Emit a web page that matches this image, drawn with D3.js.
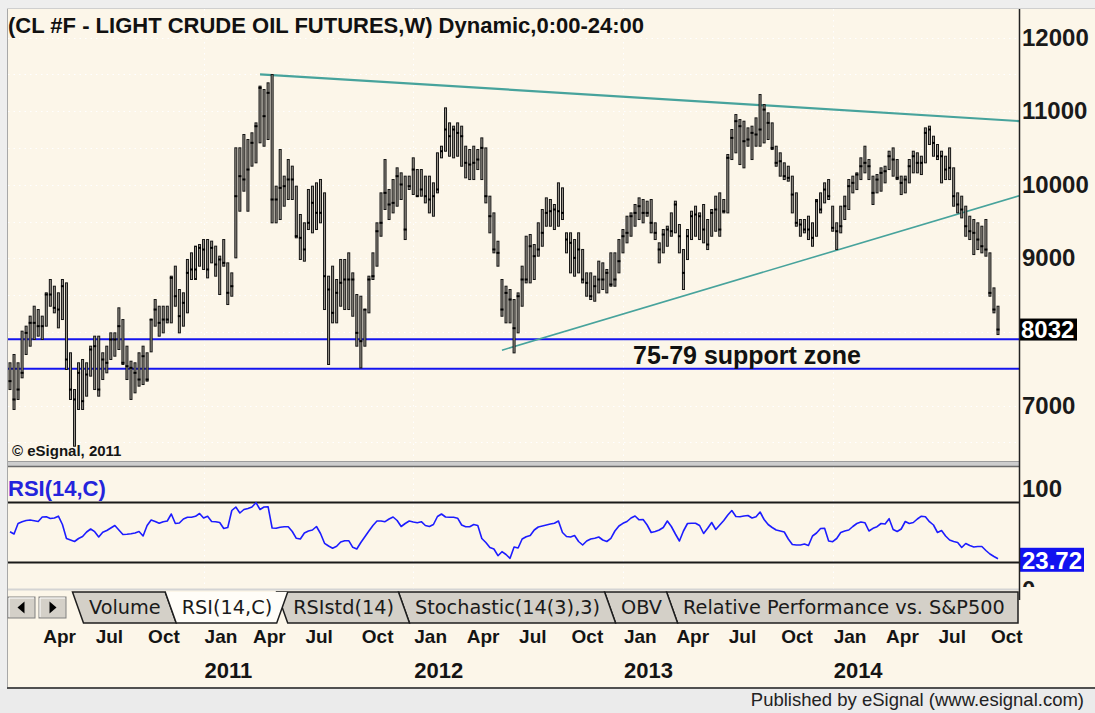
<!DOCTYPE html>
<html>
<head>
<meta charset="utf-8">
<script src="https://cdn.jsdelivr.net/npm/d3@7"></script>
<style>
  body { margin: 0; background: #eeeeee; }
  svg { display: block; font-family: "Liberation Sans", Arial, sans-serif; }
  .tab-label { font-family: "DejaVu Sans", Verdana, sans-serif; }
</style>
</head>
<body>
<svg id="chart" width="1095" height="713"></svg>
<script>
// Weekly bars of CL #F, one per week starting with the week of 5 Feb 2010 (values in cents)
const firstWeek = new Date(2010, 1, 5);

const highs = [
  7580,7693,7580,8010,8078,8214,8349,8304,8214,8531,8712,8621,8531,8712,8666,7716,7217,7580,7625,7580,
  7806,7942,7942,7716,7806,7987,7987,8327,8168,7806,7602,7580,7716,7806,7716,8168,8440,8349,8349,8349,
  8757,8893,8576,8531,8984,9074,9165,9187,9255,9255,9233,9165,9029,9255,8938,8802,10501,10501,10682,10614,
  10705,10840,11339,11293,11384,11497,9980,10478,10116,10342,10252,9980,9595,9482,9935,9980,10025,10071,9889,8757,
  8893,8712,8984,8984,9074,8802,8508,8485,8304,8757,9074,9482,9889,10342,9935,10070,10229,10161,10116,10116,
  10365,10206,10206,10116,10116,10025,10433,10523,11044,10840,10795,10840,10795,10523,10478,10523,10478,10636,10500,9844,
  9617,9232,8712,8621,8576,8440,8530,8893,9300,9323,9187,9482,9663,9821,9799,9731,10025,9957,9346,9346,
  9255,9346,9120,8802,8802,8757,8961,8938,8848,9074,9074,9255,9391,9572,9617,9731,9821,9799,9776,9799,
  9482,9210,9391,9436,9617,9776,9459,9119,9391,9640,9708,9617,9731,9527,9663,9844,9889,9799,10410,10750,
  10953,10885,10863,10772,10795,10908,11225,11089,10976,10840,10523,10433,10297,10251,10116,9889,9527,9527,9572,9482,
  9799,9889,10025,10070,9708,9482,9708,9844,10070,10116,10161,10365,10523,10342,10116,10138,10229,10251,10455,10500,
  10342,10116,10116,10342,10455,10433,10387,10772,10795,10659,10546,10455,10387,10500,10229,9889,9844,9708,9572,9527,
  9482,9436,9527,9074,8598,8349
];
const lows = [
  7217,6946,7082,7376,7693,7806,7897,7942,7897,8078,8349,8259,8055,8168,7489,7082,6447,6946,6946,7127,
  7399,7217,7127,7353,7444,7625,7670,7761,7557,7353,7082,7172,7263,7285,7331,7729,8078,7942,7987,8123,
  8123,8349,7987,8078,8259,8712,8712,8893,8848,8734,8938,8757,8508,8893,8372,8485,9006,9640,9912,9640,
  10252,10297,10569,10523,10614,9482,9482,9527,9708,9799,9799,9278,8984,8961,9391,9346,9391,9482,8304,7557,
  8123,8123,8349,8304,8304,8213,7806,7511,7806,8259,8712,8893,9300,9663,9527,9617,9708,9799,9255,9935,
  9867,9844,9844,9753,9617,9572,9889,10365,10455,10387,10365,10387,10251,10093,10070,10070,10206,10070,9753,9346,
  9074,8893,8213,8123,8123,7715,7987,8349,8666,8666,8712,9029,9164,9436,9436,9391,9436,9527,9074,8802,
  8757,8802,8666,8485,8440,8417,8530,8576,8530,8621,8621,8802,9074,9210,9300,9436,9527,9482,9572,9346,
  9255,8938,9074,9164,9300,9346,9074,8576,8983,9255,9300,9255,9210,9119,9300,9368,9300,9617,9617,10342,
  10433,10274,10229,10523,10342,10523,10523,10568,10614,10478,10251,10116,10070,10048,9617,9436,9300,9346,9255,9164,
  9300,9617,9753,9799,9368,9119,9346,9527,9663,9889,9934,10070,10161,10070,9731,9889,9912,10025,10206,10116,
  10070,9866,9889,10025,10161,10161,10138,10297,10546,10387,10342,10025,10070,10070,9708,9617,9549,9300,9255,9051,
  9119,9074,9029,8485,8259,7964
];
const closes = [
  7331,7082,7217,7444,7987,8123,8123,8078,8078,8508,8508,8327,8304,8621,7625,7217,7082,7444,7059,7421,
  7761,7806,7217,7625,7580,7897,7897,8078,7580,7534,7512,7444,7353,7670,7353,8168,8304,8123,8168,8168,
  8734,8485,8214,8395,8802,8848,8848,9142,9119,8848,9142,8916,8984,8938,8531,8621,9844,10116,10071,10206,
  10569,10795,11316,10931,11248,9799,9799,9957,9980,10071,10071,9301,9278,9120,9482,9754,9618,9618,8757,8576,
  8259,8531,8667,8712,8712,8712,7987,7874,8304,8712,8757,9368,9482,9889,9731,9753,10116,10003,9391,9980,
  10206,9844,9935,9844,9799,9844,9935,10455,10750,10659,10750,10704,10659,10297,10274,10297,10342,10500,9844,9572,
  9120,9074,8304,8530,8440,8050,8485,8712,8712,9164,9029,9120,9346,9617,9640,9663,9640,9617,9255,9210,
  9006,9120,8712,8666,8485,8621,8712,8712,8802,8644,8712,8961,9300,9346,9572,9617,9708,9617,9617,9482,
  9346,9120,9323,9391,9368,9731,9300,8802,9300,9572,9595,9572,9391,9187,9617,9663,9391,9640,10365,10636,
  10863,10795,10591,10614,10704,10682,10750,11021,10840,10500,10297,10319,10116,10093,9866,9482,9459,9391,9391,9278,
  9776,9663,9934,9844,9414,9368,9436,9708,9980,10025,10138,10251,10297,10251,9889,10070,10161,10183,10387,10342,
  10093,10025,10070,10251,10387,10297,10297,10704,10750,10568,10387,10387,10206,10229,9844,9731,9663,9436,9368,9346,
  9255,9164,9119,8530,8304,8032
];
// RSI(14) on weekly closes, one reading per bar
const rsi = [
  50.8,48.5,59,60.8,62,62.5,61.8,61,65.5,65.8,64,64.5,66.3,58,44,42.5,41,44,46,50.5,
  53.5,50.8,45.5,50.3,52,54.5,57,52.5,48,48.2,48.8,49.5,51,46.5,57,62.5,61,59.2,60.8,61.5,
  68.5,59,59.5,63.5,65.2,65.2,66.2,69,64.5,66.2,61,60.8,60,54,55,72,75.5,69.5,73,74,
  75.5,79.8,73,75.5,75.8,54.5,54.2,55.2,55.8,55.8,51,44.2,43.5,49.5,51.5,52.5,56,49,39.2,36.5,
  34.3,36.2,40.5,41.8,41.8,35.2,33.5,40,45.8,51.5,57,61.5,61.5,60.8,63.5,65.5,62,56,59,61.5,
  60.5,59.8,60.8,57,56,58,66,68.5,65.5,65.2,65.2,64.3,57.5,55.8,55.8,58,57,44,40,35,
  33.5,26.8,30.8,28,24.2,35.5,34.5,43.5,45.8,47,52.5,55.5,56.5,57.5,58.5,59.2,61.5,50,46,45.5,
  47,41,37.5,41.5,43.5,44.3,45.5,42.5,41,44.2,51.5,56.5,59.2,61,64.5,66.5,62.7,63,57.5,50,
  51,52.5,55,61.5,56,48.5,41.5,51.5,59,59.2,59.2,57,49,54.2,60,53,57.5,62,67.5,72,
  66,65.8,66.5,67,64.5,65.8,70.5,63,58,55,52.5,51.5,50.5,43.5,38,37.5,37.5,38.5,37,46.5,
  49.5,54,54.2,41.5,40.8,44,50,51.5,52.5,56,59,60.5,59.8,51.5,54.2,55.8,59,58.5,63.8,53,
  51,53.5,61,59,60,63.5,66.3,65.8,60.8,57.5,50,52,46.5,42.5,41,40,35,39,37,35.5,
  36,36,32,28.5,26,23.72
];

const priceTicks = [7000, 8000, 9000, 10000, 11000, 12000];
const priceGrid = [6500, 7000, 7500, 8000, 8500, 9000, 9500, 10000, 10500, 11000, 11500, 12000];
const supportLevels = [7900, 7500];
const trendLines = [
  { fromWeek: 62, fromPrice: 11500, toWeek: 251, toPrice: 10862 },
  { fromWeek: 122, fromPrice: 7752, toWeek: 251, toPrice: 9862 }
];
const rsiTicks = [0, 100];
const rsiBands = [80, 20];
const tabs = ["Volume", "RSI(14,C)", "RSIstd(14)", "Stochastic(14(3),3)", "OBV", "Relative Performance vs. S&P500"];
const activeTab = 1;

const W = 1095, H = 713;
const cream = "#fcf6e9";
const plotL = 8, plotR = 1019, priceTop = 9, priceBottom = 461;
const rsiTop = 467, rsiBottom = 589;

const weekDate = i => d3.timeDay.offset(firstWeek, 7 * i);
const dates = closes.map((_, i) => weekDate(i));
const n = closes.length;

const x = d3.scaleTime().domain([dates[0], dates[n - 1]]).range([10, 998]);
const y = d3.scaleLinear().domain([7000, 12000]).range([405.5, 37.5]);
const yr = d3.scaleLinear().domain([0, 100]).range([582.5, 482.5]);

const svg = d3.select("#chart");
const defs = svg.append("defs");
defs.append("clipPath").attr("id", "priceClip").append("rect")
  .attr("x", plotL).attr("y", priceTop).attr("width", plotR - plotL).attr("height", priceBottom - priceTop);
defs.append("clipPath").attr("id", "rsiAxisClip").append("rect")
  .attr("x", plotR).attr("y", rsiTop).attr("width", W - plotR).attr("height", 120);

// frame and panel backgrounds
svg.append("rect").attr("width", W).attr("height", H).attr("fill", "#eeeeee");
svg.append("rect").attr("x", plotL).attr("y", priceTop).attr("width", W - plotL).attr("height", 678).attr("fill", cream);
svg.append("line").attr("x1", 7.5).attr("x2", 7.5).attr("y1", 8).attr("y2", 687).attr("stroke", "#a8a8a8");
svg.append("line").attr("x1", 7).attr("x2", W).attr("y1", 8.5).attr("y2", 8.5).attr("stroke", "#cfcfcf");

// first bar of each quarter month
const quarterMonths = d3.timeMonths(new Date(2010, 3, 1), new Date(2014, 10, 1), 3);
const monthMarks = quarterMonths.map(m => {
  const d = dates.find(dd => dd.getFullYear() === m.getFullYear() && dd.getMonth() === m.getMonth());
  return { month: m, date: d };
}).filter(d => d.date);
const janMarks = monthMarks.filter(d => d.month.getMonth() === 0);

// dotted grid
const grid = svg.append("g").attr("stroke", "#ffffff").attr("stroke-width", 1).attr("stroke-dasharray", "1.5,4");
grid.selectAll("line.h").data(priceGrid).join("line")
  .attr("x1", plotL).attr("x2", plotR).attr("y1", d => Math.round(y(d)) + 0.5).attr("y2", d => Math.round(y(d)) + 0.5);
grid.selectAll("line.v").data(janMarks).join("line")
  .attr("x1", d => Math.round(x(d.date)) + 0.5).attr("x2", d => Math.round(x(d.date)) + 0.5)
  .attr("y1", priceTop).attr("y2", priceBottom);
grid.selectAll("line.vr").data(janMarks).join("line")
  .attr("x1", d => Math.round(x(d.date)) + 0.5).attr("x2", d => Math.round(x(d.date)) + 0.5)
  .attr("y1", rsiTop).attr("y2", rsiBottom);

// title
svg.append("text").attr("x", 8).attr("y", 33)
  .attr("font-size", 22).attr("font-weight", "bold").attr("fill", "#111")
  .text("(CL #F - LIGHT CRUDE OIL FUTURES,W) Dynamic,0:00-24:00");

// support zone
svg.append("g").selectAll("line").data(supportLevels).join("line")
  .attr("x1", plotL).attr("x2", plotR).attr("y1", d => y(d)).attr("y2", d => y(d))
  .attr("stroke", "#1414ee").attr("stroke-width", 2);
svg.append("text").attr("x", 633).attr("y", 364)
  .attr("font-size", 25).attr("font-weight", "bold").attr("fill", "#111")
  .text("75-79 support zone");

// trend lines
svg.append("g").attr("clip-path", "url(#priceClip)").selectAll("line").data(trendLines).join("line")
  .attr("x1", d => x(weekDate(d.fromWeek))).attr("y1", d => y(d.fromPrice))
  .attr("x2", d => x(weekDate(d.toWeek))).attr("y2", d => y(d.toPrice))
  .attr("stroke", "#47a39c").attr("stroke-width", (d, i) => i === 0 ? 2.2 : 1.6);

// weekly bars
const bars = svg.append("g");
bars.selectAll("rect.bar").data(d3.range(n)).join("rect")
  .attr("x", i => x(dates[i]) - 1).attr("width", 2)
  .attr("y", i => y(highs[i])).attr("height", i => y(lows[i]) - y(highs[i]))
  .attr("fill", "#9d988f").attr("stroke", "#141414").attr("stroke-width", 1);
bars.selectAll("rect.close").data(d3.range(n)).join("rect")
  .attr("x", i => x(dates[i]) - 1.5).attr("width", 3)
  .attr("y", i => y(closes[i]) - 1).attr("height", 2)
  .attr("fill", "#000");

svg.append("text").attr("x", 12).attr("y", 456)
  .attr("font-size", 15).attr("font-weight", "bold").attr("fill", "#151515")
  .text("\u00a9 eSignal, 2011");

// price axis
const lastClose = closes[n - 1];
const shownTicks = priceTicks.filter(t => Math.abs(y(t) - y(lastClose)) > 16);
const pAxis = svg.append("g").attr("transform", `translate(${plotR},0)`)
  .call(d3.axisRight(y).tickValues(shownTicks).tickSize(0).tickPadding(3).tickFormat(d3.format("d")));
pAxis.select(".domain").remove();
pAxis.attr("font-family", null).attr("font-size", null);
pAxis.selectAll("text").attr("font-size", 24).attr("font-weight", "bold").attr("fill", "#1a1a1a");
svg.append("rect").attr("x", plotR).attr("y", y(lastClose) - 11).attr("width", 58).attr("height", 22).attr("fill", "#000");
svg.append("text").attr("x", plotR + 2).attr("y", y(lastClose)).attr("dy", "0.36em")
  .attr("font-size", 24).attr("font-weight", "bold").attr("fill", "#fff")
  .text(d3.format("d")(lastClose));

// panel separator
svg.append("rect").attr("x", plotL).attr("y", 461).attr("width", plotR - plotL).attr("height", 6).attr("fill", "#cdcdcd");
svg.append("line").attr("x1", plotL).attr("x2", plotR).attr("y1", 466.5).attr("y2", 466.5).attr("stroke", "#6a6a6a").attr("stroke-width", 1.5);
svg.append("line").attr("x1", plotL).attr("x2", plotR).attr("y1", 461.5).attr("y2", 461.5).attr("stroke", "#9c9c9c");

// RSI panel
svg.append("text").attr("x", 8).attr("y", 496)
  .attr("font-size", 22).attr("font-weight", "bold").attr("fill", "#2424dc")
  .text("RSI(14,C)");
svg.append("g").selectAll("line").data(rsiBands).join("line")
  .attr("x1", plotL).attr("x2", plotR).attr("y1", d => yr(d)).attr("y2", d => yr(d))
  .attr("stroke", "#1a1a1a").attr("stroke-width", 2);
svg.append("path").datum(rsi)
  .attr("d", d3.line().x((d, i) => x(dates[i])).y(d => yr(d)))
  .attr("fill", "none").attr("stroke", "#1c1cff").attr("stroke-width", 1.6).attr("stroke-linejoin", "round");

const rAxis = svg.append("g").attr("clip-path", "url(#rsiAxisClip)")
  .append("g").attr("transform", `translate(${plotR},0)`)
  .call(d3.axisRight(yr).tickValues(rsiTicks).tickSize(0).tickPadding(3).tickFormat(d3.format("d")));
rAxis.select(".domain").remove();
rAxis.attr("font-family", null).attr("font-size", null);
rAxis.selectAll("text").attr("font-size", 24).attr("font-weight", "bold").attr("fill", "#1a1a1a")
  .attr("dy", (d) => d === 100 ? "0.58em" : "0.62em");
const lastRsi = rsi[n - 1];
svg.append("rect").attr("x", plotR).attr("y", yr(lastRsi) - 11).attr("width", 65).attr("height", 24).attr("fill", "#1212f0");
svg.append("text").attr("x", plotR + 3).attr("y", yr(lastRsi)).attr("dy", "0.42em")
  .attr("font-size", 24).attr("font-weight", "bold").attr("fill", "#fff")
  .text(d3.format(".2f")(lastRsi));

svg.append("line").attr("x1", plotL).attr("x2", plotR).attr("y1", 589.5).attr("y2", 589.5).attr("stroke", "#d4d4d4").attr("stroke-width", 2);

// vertical axis line
svg.append("line").attr("x1", plotR + 0.5).attr("x2", plotR + 0.5).attr("y1", 9).attr("y2", 600)
  .attr("stroke", "#222").attr("stroke-width", 1.5);

// tab strip
const t0 = 592, t1 = 623, sl = 5.5;
const btns = svg.append("g");
[8, 39].forEach((bx, k) => {
  btns.append("rect").attr("x", bx).attr("y", 597).attr("width", 27).attr("height", 21).attr("fill", "#d4d0c8").attr("stroke", "#808080");
  btns.append("line").attr("x1", bx + 1).attr("x2", bx + 26).attr("y1", 598).attr("y2", 598).attr("stroke", "#fff");
  btns.append("line").attr("x1", bx + 1).attr("x2", bx + 1).attr("y1", 598).attr("y2", 617).attr("stroke", "#fff");
  const cx = bx + 13.5, cy = 607.5;
  const pts = k === 0 ? [[cx + 3, cy - 6], [cx + 3, cy + 6], [cx - 4, cy]] : [[cx - 3, cy - 6], [cx - 3, cy + 6], [cx + 4, cy]];
  btns.append("polygon").attr("points", pts.map(p => p.join(",")).join(" ")).attr("fill", "#000");
});

const tabG = svg.append("g");
const polyG = tabG.append("g");
const textG = tabG.append("g");
let left = 78;
const tabGeo = [];
tabs.forEach((t, k) => {
  const tx = textG.append("text").attr("class", "tab-label").attr("x", left + 11).attr("y", 614)
    .attr("font-size", 19.3).attr("fill", "#1a1a1a").text(t);
  const w = tx.node().getComputedTextLength();
  const right = k === tabs.length - 1 ? 1018 : left + 11 + w + 10;
  tabGeo.push({ k, l: left, r: right });
  left = right;
});
tabGeo.filter(g => g.k !== activeTab).reverse().forEach(g => {
  const last = g.k === tabs.length - 1;
  const pts = last
    ? [[g.l - sl, t0], [g.r, t0], [g.r, t1], [g.l + sl, t1]]
    : [[g.l - sl, t0], [g.r - sl, t0], [g.r + sl, t1], [g.l + sl, t1]];
  polyG.append("polygon").attr("points", pts.map(p => p.join(",")).join(" "))
    .attr("fill", "#d4d0c8").attr("stroke", "#1e1e1e").attr("stroke-width", 1.5).attr("stroke-linejoin", "miter");
});
const ag = tabGeo[activeTab];
polyG.append("path")
  .attr("d", `M${ag.l - sl},${t0} L${ag.l + sl},${t1} L${ag.r - sl},${t1} L${ag.r + sl},${t0}`)
  .attr("fill", "#fffdf8").attr("stroke", "#1e1e1e").attr("stroke-width", 1.5);

// time axis labels
const xl = svg.append("g");
xl.selectAll("text.m").data(monthMarks).join("text")
  .attr("x", d => x(d.date) + 1).attr("y", 643)
  .attr("font-size", 19).attr("font-weight", "bold").attr("fill", "#141414")
  .text(d => d3.timeFormat("%b")(d.month));
xl.selectAll("text.yr").data(janMarks).join("text")
  .attr("x", d => x(d.date) + 1).attr("y", 678)
  .attr("font-size", 22).attr("font-weight", "bold").attr("fill", "#141414")
  .text(d => d3.timeFormat("%Y")(d.month));

// footer
svg.append("rect").attr("x", 0).attr("y", 689).attr("width", W).attr("height", H - 689).attr("fill", "#ebebeb");
svg.append("rect").attr("x", 7).attr("y", 687).attr("width", W - 7).attr("height", 2).attr("fill", "#505050");
svg.append("text").attr("x", 1084).attr("y", 706).attr("text-anchor", "end")
  .attr("font-size", 18.5).attr("fill", "#222")
  .text("Published by eSignal (www.esignal.com)");
</script>
</body>
</html>
